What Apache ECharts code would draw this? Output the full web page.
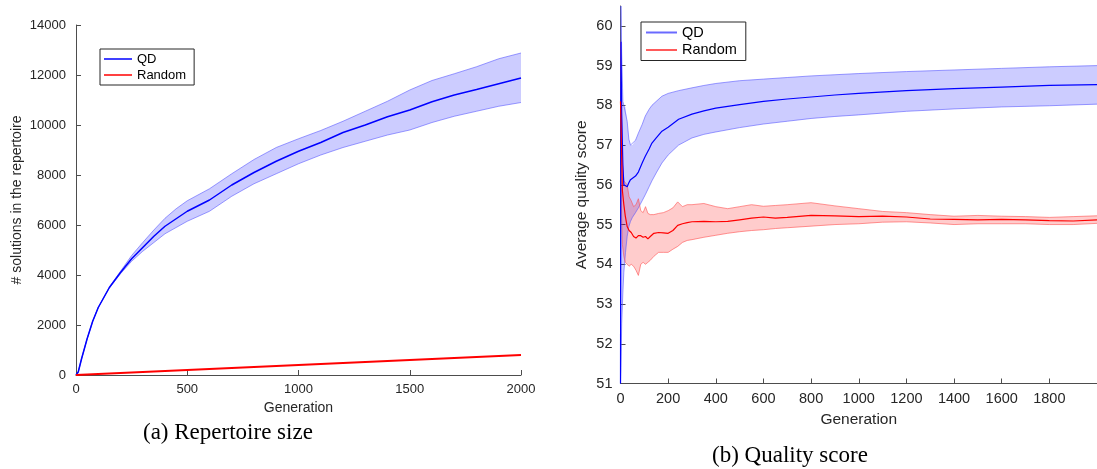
<!DOCTYPE html>
<html>
<head>
<meta charset="utf-8">
<script src="https://cdn.jsdelivr.net/npm/echarts@6/dist/echarts.min.js"></script>
<style>
html,body{margin:0;padding:0;background:#fff;}
#chart{width:1097px;height:469px;}
</style>
</head>
<body>
<div id="chart"></div>
<script>
// ---------- (a) Repertoire size ----------
const gensA      = [0, 10, 25, 50, 75, 100, 150, 200, 250, 300, 350, 400, 450, 500, 600, 700, 800, 900, 1000, 1100, 1200, 1300, 1400, 1500, 1600, 1700, 1800, 1900, 2000];
const qdSizeMean = [0, 120, 650, 1450, 2150, 2700, 3500, 4100, 4650, 5100, 5550, 5950, 6250, 6550, 7000, 7600, 8100, 8550, 8950, 9300, 9700, 10000, 10330, 10600, 10930, 11200, 11420, 11650, 11880];
const qdSizeUp   = [0, 120, 650, 1450, 2150, 2700, 3520, 4150, 4780, 5300, 5800, 6270, 6650, 6970, 7450, 8050, 8620, 9100, 9450, 9780, 10150, 10550, 10950, 11400, 11780, 12050, 12330, 12650, 12880];
const qdSizeLo   = [0, 120, 650, 1450, 2150, 2700, 3480, 4050, 4550, 4950, 5300, 5650, 5900, 6150, 6550, 7150, 7650, 8050, 8450, 8800, 9100, 9350, 9600, 9800, 10100, 10350, 10550, 10750, 10900];
const gensRandA  = [0, 250, 500, 750, 1000, 1250, 1500, 1750, 2000];
const randSize   = [0, 100, 200, 300, 400, 500, 600, 700, 800];
const ticksAX    = [0, 500, 1000, 1500, 2000];
const ticksAY    = [0, 2000, 4000, 6000, 8000, 10000, 12000, 14000];

// ---------- (b) Quality score ----------
const gensQ   = [0, 2, 5, 10, 14, 21, 28, 35, 42, 50, 63, 75, 91, 104, 120, 132, 150, 174, 200, 244, 300, 350, 400, 500, 600, 700, 800, 900, 1000, 1200, 1400, 1600, 1800, 2000];
const qdQMean = [51.0, 59.6, 57.8, 56.5, 56.0, 56.02, 55.95, 56.05, 56.13, 56.15, 56.22, 56.32, 56.55, 56.72, 56.9, 57.05, 57.18, 57.35, 57.45, 57.65, 57.78, 57.86, 57.93, 58.02, 58.1, 58.16, 58.21, 58.26, 58.3, 58.37, 58.42, 58.46, 58.5, 58.52];
const qdQUp   = [51.2, 60.5, 59.3, 58.1, 58.0, 57.95, 57.6, 57.15, 57.0, 57.0, 57.12, 57.3, 57.52, 57.73, 57.9, 58.0, 58.1, 58.23, 58.3, 58.37, 58.44, 58.5, 58.55, 58.62, 58.66, 58.7, 58.74, 58.77, 58.8, 58.85, 58.89, 58.93, 58.97, 59.0];
const qdQLo   = [51.0, 51.4, 52.5, 53.3, 53.8, 54.3, 54.7, 54.95, 55.08, 55.18, 55.3, 55.42, 55.6, 55.75, 55.95, 56.1, 56.3, 56.55, 56.75, 57.0, 57.18, 57.27, 57.33, 57.44, 57.53, 57.6, 57.67, 57.72, 57.76, 57.85, 57.91, 57.96, 57.99, 58.03];

const gensR     = [0, 4, 8, 14, 20, 28, 36, 45, 55, 65, 75, 85, 95, 105, 115, 125, 140, 160, 180, 200, 220, 240, 260, 280, 300, 350, 400, 450, 500, 550, 600, 650, 700, 800, 900, 1000, 1100, 1200, 1300, 1400, 1500, 1600, 1700, 1800, 1900, 2000];
const randQMean = [58.1, 57.0, 55.85, 55.5, 55.22, 54.95, 54.85, 54.8, 54.7, 54.66, 54.72, 54.72, 54.68, 54.7, 54.64, 54.7, 54.78, 54.8, 54.79, 54.78, 54.85, 54.98, 55.02, 55.05, 55.07, 55.08, 55.07, 55.08, 55.12, 55.16, 55.19, 55.16, 55.18, 55.23, 55.22, 55.2, 55.21, 55.19, 55.14, 55.13, 55.12, 55.13, 55.12, 55.1, 55.09, 55.12];
const randQUp   = [59.6, 57.8, 56.6, 56.1, 56.05, 56.0, 55.7, 55.6, 55.45, 55.5, 55.65, 55.35, 55.3, 55.45, 55.28, 55.25, 55.25, 55.28, 55.3, 55.35, 55.42, 55.57, 55.45, 55.5, 55.5, 55.53, 55.45, 55.4, 55.45, 55.5, 55.46, 55.48, 55.5, 55.55, 55.47, 55.4, 55.33, 55.3, 55.25, 55.21, 55.23, 55.21, 55.2, 55.18, 55.2, 55.22];
const randQLo   = [56.5, 55.4, 54.5, 54.2, 54.05, 54.0, 53.95, 54.0, 53.95, 53.85, 53.72, 54.0, 54.05, 54.0, 54.05, 54.1, 54.2, 54.3, 54.3, 54.3, 54.38, 54.45, 54.55, 54.6, 54.62, 54.68, 54.73, 54.78, 54.82, 54.85, 54.87, 54.9, 54.92, 54.96, 55.0, 55.02, 55.06, 55.07, 55.04, 55.0, 55.02, 55.02, 55.02, 55.0, 55.0, 55.03];
const ticksBX = [0, 200, 400, 600, 800, 1000, 1200, 1400, 1600, 1800];
const ticksBY = [51, 52, 53, 54, 55, 56, 57, 58, 59, 60];

const seriesNames = ['QD', 'Random'];
const captions = ['(a) Repertoire size', '(b) Quality score'];

// ---------- helpers ----------
const pairs = (xs, ys) => xs.map((x, i) => [x, ys[i]]);
const AX = '#4d4d4d', TXT = '#262626', FONT = 'Liberation Sans';
const plain = v => String(v);

function bandSeries(xs, lo, hi, fill, edge, ax) {
  return [
    {
      type: 'custom', xAxisIndex: ax, yAxisIndex: ax, silent: true, z: 1, clip: true,
      data: [[xs[0], lo[0]]],
      renderItem: function (params, api) {
        const pts = [];
        for (let i = 0; i < xs.length; i++) pts.push(api.coord([xs[i], hi[i]]));
        for (let i = xs.length - 1; i >= 0; i--) pts.push(api.coord([xs[i], lo[i]]));
        return { type: 'polygon', shape: { points: pts }, style: { fill: fill, stroke: null } };
      }
    },
    { type: 'line', xAxisIndex: ax, yAxisIndex: ax, data: pairs(xs, hi), symbol: 'none', silent: true, z: 2,
      lineStyle: { color: edge, width: 1 } },
    { type: 'line', xAxisIndex: ax, yAxisIndex: ax, data: pairs(xs, lo), symbol: 'none', silent: true, z: 2,
      lineStyle: { color: edge, width: 1 } }
  ];
}

function xAxisCfg(gi, max, ticks, fs, nameFs, nameGap) {
  return {
    type: 'value', gridIndex: gi, min: 0, max: max,
    name: 'Generation', nameLocation: 'middle', nameGap: nameGap,
    nameTextStyle: { color: TXT, fontFamily: FONT, fontSize: nameFs },
    axisLine: { show: true, lineStyle: { color: AX, width: 1 } },
    axisTick: { show: true, inside: true, length: 5, customValues: ticks, lineStyle: { color: AX } },
    axisLabel: { color: TXT, fontFamily: FONT, fontSize: fs, margin: 8, customValues: ticks, formatter: plain },
    splitLine: { show: false }
  };
}
function yAxisCfg(gi, min, max, ticks, name, fs, nameFs, nameGap, margin) {
  return {
    type: 'value', gridIndex: gi, min: min, max: max,
    name: name, nameLocation: 'middle', nameGap: nameGap,
    nameTextStyle: { color: TXT, fontFamily: FONT, fontSize: nameFs },
    axisLine: { show: true, lineStyle: { color: AX, width: 1 } },
    axisTick: { show: true, inside: true, length: 5, customValues: ticks, lineStyle: { color: AX } },
    axisLabel: { color: TXT, fontFamily: FONT, fontSize: fs, margin: margin, customValues: ticks, formatter: plain },
    splitLine: { show: false }
  };
}

const chart = echarts.init(document.getElementById('chart'), null, { renderer: 'canvas' });

const series = [].concat(
  bandSeries(gensA, qdSizeLo, qdSizeUp, 'rgba(0,0,255,0.2)', 'rgba(90,90,255,0.6)', 0),
  [{ name: seriesNames[0], type: 'line', xAxisIndex: 0, yAxisIndex: 0, data: pairs(gensA, qdSizeMean), symbol: 'none', z: 5,
     lineStyle: { color: '#0000ff', width: 1.5 } },
   { name: seriesNames[1], type: 'line', xAxisIndex: 0, yAxisIndex: 0, data: pairs(gensRandA, randSize), symbol: 'none', z: 5,
     lineStyle: { color: '#ff0000', width: 2 } }],
  bandSeries(gensQ, qdQLo, qdQUp, 'rgba(0,0,255,0.2)', 'rgba(90,90,255,0.6)', 1),
  bandSeries(gensR, randQLo, randQUp, 'rgba(255,0,0,0.2)', 'rgba(255,80,80,0.6)', 1),
  [{ name: seriesNames[0], type: 'line', xAxisIndex: 1, yAxisIndex: 1, data: pairs(gensQ, qdQMean), symbol: 'none', z: 5,
     lineStyle: { color: '#0000ff', width: 1.2 } },
   { name: seriesNames[1], type: 'line', xAxisIndex: 1, yAxisIndex: 1, data: pairs(gensR, randQMean), symbol: 'none', z: 5,
     lineStyle: { color: '#ff0000', width: 1.2 } }]
);

chart.setOption({
  animation: false,
  backgroundColor: '#ffffff',
  title: [
    { text: captions[0], left: 143, top: 421, padding: 0,
      textStyle: { fontFamily: 'Liberation Serif', fontWeight: 'normal', fontSize: 23, color: '#000' } },
    { text: captions[1], left: 712, top: 444, padding: 0,
      textStyle: { fontFamily: 'Liberation Serif', fontWeight: 'normal', fontSize: 23, color: '#000' } }
  ],
  grid: [
    { left: 76, top: 25, right: 576, bottom: 94, containLabel: false },
    { left: 620.5, top: 6, right: -0.5, bottom: 85.5, containLabel: false }
  ],
  xAxis: [
    xAxisCfg(0, 2000, ticksAX, 13, 14, 26),
    xAxisCfg(1, 2000, ticksBX, 14.5, 15.5, 27)
  ],
  yAxis: [
    yAxisCfg(0, 0, 14000, ticksAY, '# solutions in the repertoire', 13, 14, 52, 10),
    yAxisCfg(1, 51, 60.5, ticksBY, 'Average quality score', 14.5, 15.5, 31, 8)
  ],
  legend: [
    { orient: 'vertical', left: 100, top: 49, selectedMode: false,
      backgroundColor: '#fff', borderColor: '#262626', borderWidth: 1, borderRadius: 0,
      padding: [3, 8, 3, 4], itemGap: 2, itemWidth: 28, itemHeight: 1.5, icon: 'rect',
      textStyle: { color: '#000', fontFamily: FONT, fontSize: 13, lineHeight: 14 },
      data: [{ name: seriesNames[0], itemStyle: { color: '#0000ff' } },
             { name: seriesNames[1], itemStyle: { color: '#ff0000' } }] },
    { orient: 'vertical', left: 641, top: 22, selectedMode: false,
      backgroundColor: '#fff', borderColor: '#262626', borderWidth: 1, borderRadius: 0,
      padding: [3, 9, 3, 5], itemGap: 2.5, itemWidth: 31, itemHeight: 2, icon: 'rect',
      textStyle: { color: '#000', fontFamily: FONT, fontSize: 14.5, lineHeight: 15 },
      data: [{ name: seriesNames[0], itemStyle: { color: '#6a6aff' } },
             { name: seriesNames[1], itemStyle: { color: '#ff5a5a' } }] }
  ],
  series: series
});
</script>
</body>
</html>
